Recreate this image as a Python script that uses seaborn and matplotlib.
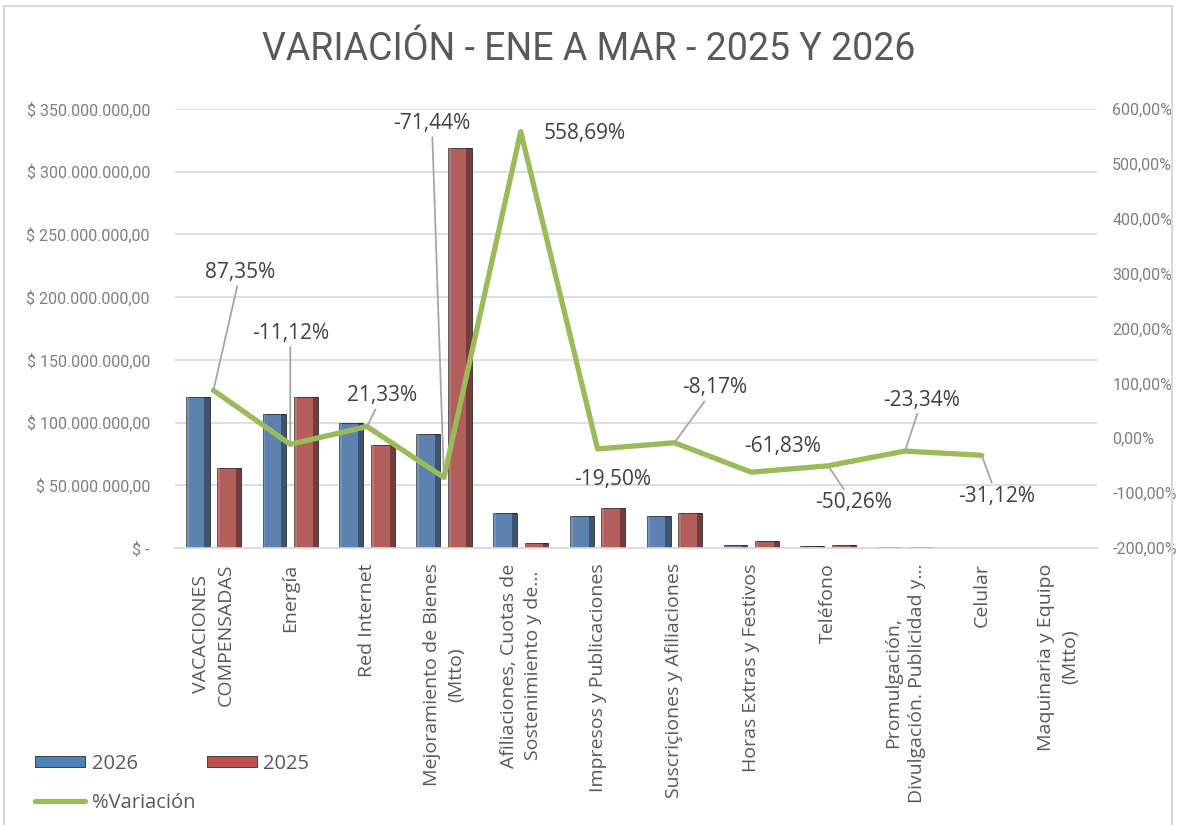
import numpy as np
import pandas as pd
import seaborn as sns
import matplotlib.pyplot as plt
from matplotlib.patches import Rectangle
from matplotlib.ticker import FuncFormatter, MultipleLocator
from matplotlib.lines import Line2D
from matplotlib.patches import Patch

# datos
categorias = [
    "VACACIONES\nCOMPENSADAS",
    "Energía",
    "Red Internet",
    "Mejoramiento de Bienes\n(Mtto)",
    "Afiliaciones, Cuotas de\nSostenimiento y de…",
    "Impresos y Publicaciones",
    "Suscriçiones y Afiliaciones",
    "Horas Extras y Festivos",
    "Teléfono",
    "Promulgación,\nDivulgación. Publicidad y…",
    "Celular",
    "Maquinaria y Equipo\n(Mtto)",
]
valores_2026 = [120.0e6, 106.7e6, 100.0e6, 91.1e6, 27.7e6, 25.7e6, 25.6e6, 2.2e6, 1.3e6, 0.69e6, 0.24e6, 0.0]
valores_2025 = [64.0e6, 120.0e6, 82.4e6, 319.0e6, 4.2e6, 31.9e6, 27.9e6, 5.8e6, 2.6e6, 0.9e6, 0.35e6, 0.0]
variacion = [87.35, -11.12, 21.33, -71.44, 558.69, -19.50, -8.17, -61.83, -50.26, -23.34, -31.12]
etiquetas_var = ["87,35%", "-11,12%", "21,33%", "-71,44%", "558,69%", "-19,50%",
                 "-8,17%", "-61,83%", "-50,26%", "-23,34%", "-31,12%"]

# posiciones de etiquetas (pixeles desde el punto) y si llevan linea guia
offsets = [(27, 118), (0, 111), (15, 31), (-12, 354), (64, -2), (15, -31),
           (40, 55), (31, 26), (25, -37), (17, 51), (15, -41)]
guia = [True, True, True, True, False, False, True, False, True, True, True]

df = pd.DataFrame({
    "categoria": categorias * 2,
    "valor": valores_2026 + valores_2025,
    "anio": ["2026"] * len(categorias) + ["2025"] * len(categorias),
})

sns.set_style("white")
plt.rcParams["font.family"] = ["Open Sans", "DejaVu Sans"]

azul = "#4F81BD"
rojo = "#C0504D"
verde = "#9BBB59"
gris_txt = "#595959"

fig = plt.figure(figsize=(11.77, 8.25), dpi=100)
ax = fig.add_axes([175 / 1177, 1 - 548 / 825, 922 / 1177, 439 / 825])

sns.barplot(data=df, x="categoria", y="valor", hue="anio", hue_order=["2026", "2025"],
            palette={"2026": azul, "2025": rojo}, width=0.82, gap=0.24,
            edgecolor="#2b2b2b", linewidth=0.6, ax=ax, legend=False)

# sombreado tipo bisel
for p in ax.patches:
    h = p.get_height()
    if h <= 0:
        continue
    x0, w = p.get_x(), p.get_width()
    ax.add_patch(Rectangle((x0 + w * 0.78, 0), w * 0.22, h, facecolor="black", alpha=0.35,
                           linewidth=0, zorder=p.get_zorder() + 0.1))
    ax.add_patch(Rectangle((x0, 0), w * 0.12, h, facecolor="white", alpha=0.15,
                           linewidth=0, zorder=p.get_zorder() + 0.1))

ax.set_xlim(-0.5, 11.5)
ax.set_ylim(0, 350e6)
ax.yaxis.set_major_locator(MultipleLocator(50e6))


def fmt_pesos(v, pos):
    if abs(v) < 1:
        return "$ -"
    s = f"{v:,.2f}".replace(",", "X").replace(".", ",").replace("X", ".")
    return "$ " + s


ax.yaxis.set_major_formatter(FuncFormatter(fmt_pesos))
ax.grid(axis="y", color="#d9d9d9", linewidth=1.2)
ax.set_axisbelow(True)
for s in ["top", "right", "left"]:
    ax.spines[s].set_visible(False)
ax.spines["bottom"].set_color("#d9d9d9")
ax.spines["bottom"].set_linewidth(1.2)
ax.set_xlabel("")
ax.set_ylabel("")
ax.tick_params(axis="y", length=0, pad=18, labelsize=11.5, labelcolor="#7f7f7f")
for t in ax.get_yticklabels():
    t.set_family(["Roboto", "DejaVu Sans"])
ax.tick_params(axis="x", length=0, pad=11)
ax.set_xticks(range(len(categorias)))
ax.set_xticklabels(categorias, rotation=90, ha="center", va="top", multialignment="center",
                   fontsize=14, color=gris_txt, linespacing=1.45)

# eje secundario
ax2 = ax.twinx()
x_var = np.arange(len(variacion))
sns.lineplot(x=x_var, y=variacion, color=verde, linewidth=3.8, ax=ax2)
ax2.set_ylim(-200, 600)
ax2.set_xlim(-0.5, 11.5)
ax2.yaxis.set_major_locator(MultipleLocator(100))
ax2.yaxis.set_major_formatter(FuncFormatter(lambda v, p: f"{v:.2f}%".replace(".", ",")))
for s in ax2.spines.values():
    s.set_visible(False)
ax2.tick_params(axis="y", length=0, pad=11, labelsize=11.5, labelcolor="#7f7f7f")
for t in ax2.get_yticklabels():
    t.set_family(["Roboto", "DejaVu Sans"])
ax2.set_ylabel("")

for i, (v, lab) in enumerate(zip(variacion, etiquetas_var)):
    kw = {}
    if guia[i]:
        kw["arrowprops"] = dict(arrowstyle="-", color="#a6a6a6", lw=1.3, shrinkA=0, shrinkB=0)
    ax2.annotate(lab, xy=(i, v), xytext=offsets[i], textcoords="offset pixels",
                 ha="center", va="center", fontsize=15, color="#404040", **kw)

# titulo
fig.text(0.5, 1 - 50 / 825, "VARIACIÓN - ENE A MAR - 2025 Y 2026", ha="center", va="center",
         fontsize=27, color=gris_txt, family=["Roboto", "DejaVu Sans"], fontstretch="condensed")

# leyenda
h_2026 = Patch(facecolor=azul, edgecolor="#2b2b2b", linewidth=0.6)
h_2025 = Patch(facecolor=rojo, edgecolor="#2b2b2b", linewidth=0.6)
h_var = Line2D([0], [0], color=verde, linewidth=3.8, solid_capstyle="round")
fig.legend([h_2026, h_var, h_2025], ["2026", "%Variación", "2025"], ncol=2,
           loc="lower left", bbox_to_anchor=(17 / 1177, -6 / 825), frameon=False,
           fontsize=14.5, labelcolor=gris_txt, handlelength=2.5, handleheight=0.5,
           handletextpad=0.3, columnspacing=0.6, labelspacing=0.95)

# borde del grafico
fig.add_artist(Rectangle((4 / 1177, -0.02), 1168 / 1177, 1.02 - 6 / 825, transform=fig.transFigure,
                         fill=False, edgecolor="#d9d9d9", linewidth=1.5))

fig.savefig("out.png", dpi=100)
